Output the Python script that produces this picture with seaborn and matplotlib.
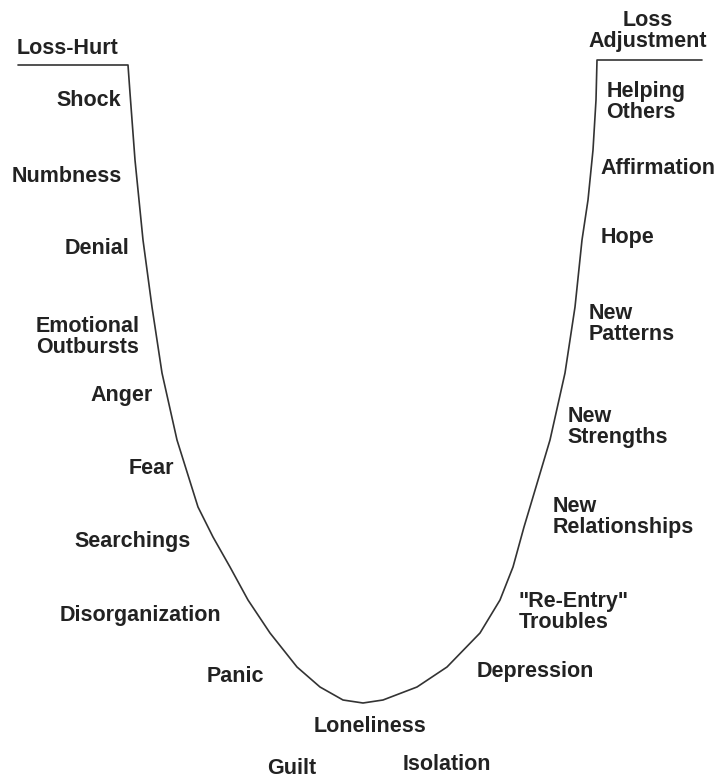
import seaborn as sns
import matplotlib.pyplot as plt
import pandas as pd

# Grief curve (pixel-like units, y grows downward)
curve_x = [18, 128, 130, 135, 140, 143, 152, 162, 177, 198, 213, 230, 248, 270, 297,
           320, 343, 363, 383, 417, 447, 480, 500, 513, 524, 530, 550, 565, 575, 582,
           588, 593, 596, 597, 702]
curve_y = [65, 65, 93, 160, 210, 240, 307, 373, 440, 507, 537, 567, 600, 633, 667,
           687, 700, 703, 700, 687, 667, 633, 600, 567, 527, 507, 440, 373, 307, 240,
           200, 150, 100, 60, 60]

# Stage labels and where they sit
labels = ["Loss-Hurt", "Shock", "Numbness", "Denial", "Emotional\nOutbursts", "Anger",
          "Fear", "Searchings", "Disorganization", "Panic", "Loneliness", "Guilt",
          "Isolation", "Depression", "\"Re-Entry\"\nTroubles", "New\nRelationships",
          "New\nStrengths", "New\nPatterns", "Hope", "Affirmation", "Helping\nOthers",
          "Loss\nAdjustment"]
label_x = [67, 89, 67, 97, 88, 122, 151, 133, 140, 235, 370, 292,
           447, 535, 574, 623, 618, 632, 628, 658, 646, 648]
label_y = [48, 101, 177, 248, 337, 396, 468, 542, 616, 677, 726, 768,
           765, 671, 612, 517, 427, 324, 238, 168, 102, 31]

df = pd.DataFrame({"x": curve_x, "y": curve_y})

sns.set_theme(style="white")
plt.rcParams['font.family'] = ['Liberation Sans', 'DejaVu Sans']

fig = plt.figure(figsize=(7.17, 7.83), dpi=100)
ax = fig.add_axes([0, 0, 1, 1])
sns.lineplot(data=df, x="x", y="y", sort=False, estimator=None,
             color="#333333", linewidth=1.2, ax=ax)

for txt, x, y in zip(labels, label_x, label_y):
    align = "center" if txt.startswith("Loss\n") else "left"
    ax.text(x, y, txt, ha="center", va="center", multialignment=align,
            fontsize=15.5, fontweight="bold", color="#222222", linespacing=0.95)

ax.set_xlim(0, 717)
ax.set_ylim(783, 0)
ax.set_axis_off()

plt.savefig("out.png", dpi=100, facecolor="white")
